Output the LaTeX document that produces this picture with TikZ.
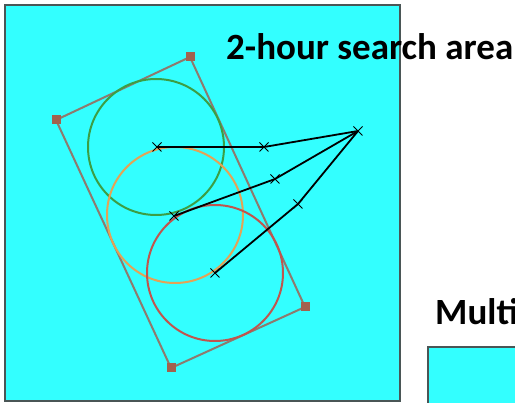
\documentclass[tikz,border=0pt]{standalone}
\usepackage{fontspec}
\setmainfont{Carlito}
\usetikzlibrary{shapes.misc}
\definecolor{AreaCyan}{HTML}{33FFFF}
\definecolor{FrameGrey}{HTML}{4A5656}
\definecolor{BoxBrown}{HTML}{8E7A6E}
\definecolor{CornerBrown}{HTML}{A2624E}
\definecolor{LegGreen}{HTML}{3C9E44}
\definecolor{LegOrange}{HTML}{E3A356}
\definecolor{LegRed}{HTML}{C0554E}

\begin{document}
\begin{tikzpicture}[x=1pt,y=-1pt,
    corner/.style={fill=CornerBrown, minimum size=9pt, inner sep=0pt},
    fix/.style={cross out, draw=black, line width=1pt, minimum size=8pt, inner sep=0pt},
    leg/.style={draw=black, line width=1.8pt},
    ring/.style={line width=2pt},
    title/.style={font=\fontsize{37}{37}\selectfont\bfseries, inner sep=0pt}]
  \useasboundingbox (0,0) rectangle (515,403);
  % search areas
  \draw[fill=AreaCyan, draw=FrameGrey, line width=1.6pt] (5,5) rectangle (400,401);
  \draw[fill=AreaCyan, draw=FrameGrey, line width=1.6pt] (428,347) rectangle (540,430);
  % rotated box round the three circles
  \draw[BoxBrown, line width=2pt] (190,57) -- (56,120) -- (171,368) -- (305,307) -- cycle;
  \foreach \p/\n in {{(190,57)}/ca, {(56,120)}/cb, {(171,368)}/cc, {(305,307)}/cd}
    \node[corner] (\n) at \p {};
  % circles
  \draw[LegGreen, ring] (156,147) circle (68);
  \draw[LegOrange, ring] (175,215) circle (68);
  \draw[LegRed, ring] (215,273) circle (68);
  % fixes
  \node[fix] (apex) at (358,131) {};
  \node[fix] (g0) at (157,147) {};
  \node[fix] (g1) at (264,147) {};
  \node[fix] (o0) at (174,216) {};
  \node[fix] (o1) at (275,179) {};
  \node[fix] (r0) at (215,273) {};
  \node[fix] (r1) at (298,204) {};
  \draw[leg] (g0.center) -- (g1.center) -- (apex.center);
  \draw[leg] (o0.center) -- (o1.center) -- (apex.center);
  \draw[leg] (r0.center) -- (r1.center) -- (apex.center);
  % labels
  \node[title, anchor=base west] (hours) at (226,60) {2-hour search area};
  \node[title, anchor=base west] (multi) at (435,325) {Multi};
\end{tikzpicture}
\end{document}
